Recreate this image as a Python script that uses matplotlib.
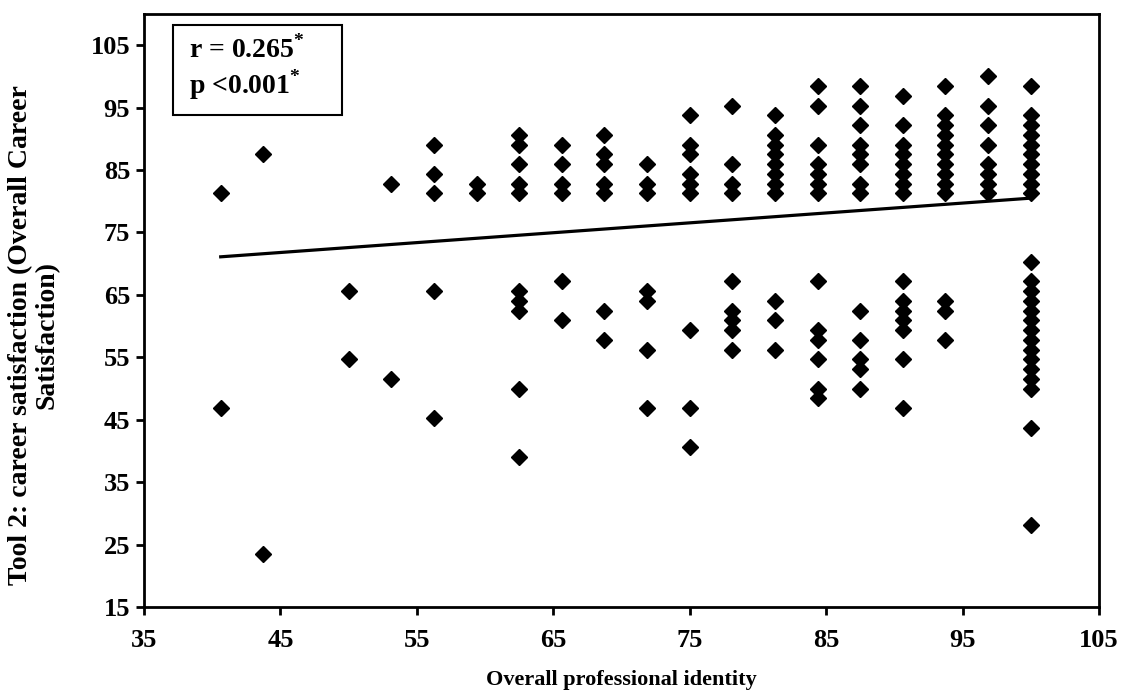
import numpy as np
import matplotlib
matplotlib.use("Agg")
import matplotlib.pyplot as plt
from matplotlib.patches import Rectangle

plt.rcParams['font.family'] = ['Liberation Serif', 'DejaVu Serif']
plt.rcParams['font.weight'] = 'bold'
plt.rcParams['mathtext.fontset'] = 'custom'
plt.rcParams['mathtext.rm'] = 'Liberation Serif:bold'

# overall professional identity (x) levels, one column of points each
identity_levels = [40.625, 43.75, 50, 53.125, 56.25, 59.375, 62.5, 65.625,
                   68.75, 71.875, 75, 78.125, 81.25, 84.375, 87.5, 90.625,
                   93.75, 96.875, 100]

# career satisfaction values seen in each column
satisfaction_by_level = [
    [81.25, 46.875],
    [87.5, 23.4375],
    [65.625, 54.6875],
    [82.8125, 51.5625],
    [89.0625, 84.375, 81.25, 65.625, 45.3125],
    [82.8125, 81.25],
    [90.625, 89.0625, 85.9375, 82.8125, 81.25, 65.625, 64.0625, 62.5, 50, 39.0625],
    [89.0625, 85.9375, 82.8125, 81.25, 67.1875, 60.9375],
    [90.625, 87.5, 85.9375, 82.8125, 81.25, 62.5, 57.8125],
    [85.9375, 82.8125, 81.25, 65.625, 64.0625, 56.25, 46.875],
    [93.75, 89.0625, 87.5, 84.375, 82.8125, 81.25, 59.375, 46.875, 40.625],
    [95.3125, 85.9375, 82.8125, 81.25, 67.1875, 62.5, 60.9375, 59.375, 56.25],
    [93.75, 90.625, 89.0625, 87.5, 85.9375, 84.375, 82.8125, 81.25,
     64.0625, 60.9375, 56.25],
    [98.4375, 95.3125, 89.0625, 85.9375, 84.375, 82.8125, 81.25,
     67.1875, 59.375, 57.8125, 54.6875, 50, 48.4375],
    [98.4375, 95.3125, 92.1875, 89.0625, 87.5, 85.9375, 82.8125, 81.25,
     62.5, 57.8125, 54.6875, 53.125, 50],
    [96.875, 92.1875, 89.0625, 87.5, 85.9375, 84.375, 82.8125, 81.25,
     67.1875, 64.0625, 62.5, 60.9375, 59.375, 54.6875, 46.875],
    [98.4375, 93.75, 92.1875, 90.625, 89.0625, 87.5, 85.9375, 84.375, 82.8125, 81.25,
     64.0625, 62.5, 57.8125],
    [100, 95.3125, 92.1875, 89.0625, 85.9375, 84.375, 82.8125, 81.25],
    [98.4375, 93.75, 92.1875, 90.625, 89.0625, 87.5, 85.9375, 84.375, 82.8125, 81.25,
     70.3125, 67.1875, 65.625, 64.0625, 62.5, 60.9375, 59.375, 57.8125, 56.25,
     54.6875, 53.125, 51.5625, 50, 43.75, 28.125],
]

# linear trend line as drawn (end points)
trend_x = [40.625, 100]
trend_y = [71.1, 80.5]

x_ticks = [35, 45, 55, 65, 75, 85, 95, 105]
y_ticks = [15, 25, 35, 45, 55, 65, 75, 85, 95, 105]

xs, ys = [], []
for lvl, vals in zip(identity_levels, satisfaction_by_level):
    for v in vals:
        xs.append(lvl)
        ys.append(v)

fig = plt.figure(figsize=(11.23, 6.9), dpi=100)
ax = fig.add_axes([0.1282, 0.1203, 0.8504, 0.8594])

ax.plot(xs, ys, 'D', color='black', markersize=8, linestyle='none', zorder=3)
ax.plot(trend_x, trend_y, '-', color='black', linewidth=2.3, zorder=2)

ax.set_xlim(35, 105)
ax.set_ylim(15, 110)
ax.set_xticks(x_ticks)
ax.set_yticks(y_ticks)
ax.tick_params(direction='out', length=6, width=2, labelsize=19)
ax.tick_params(axis='x', pad=10)
ax.tick_params(axis='y', pad=4)
for lab in ax.get_xticklabels() + ax.get_yticklabels():
    lab.set_fontweight('bold')
for s in ax.spines.values():
    s.set_linewidth(2)

fig.text(0.5530, 0.0145, 'Overall professional identity', ha='center', va='center',
         fontsize=16, fontweight='bold')
fig.text(0.030, 0.515, 'Tool 2: career satisfaction (Overall Career\nSatisfaction)',
         ha='center', va='center', rotation=90, fontsize=20, fontweight='bold',
         linespacing=1.1)

box = Rectangle((0.0304, 0.8297), 0.177, 0.152, transform=ax.transAxes,
                facecolor='white', edgecolor='black', linewidth=1.5, zorder=4)
ax.add_patch(box)
ax.text(0.047, 0.965, 'r = 0.265$^{*}$\np <0.001$^{*}$', transform=ax.transAxes,
        ha='left', va='top', fontsize=20, fontweight='bold', linespacing=1.15, zorder=5)

fig.savefig('out.png', dpi=100)
